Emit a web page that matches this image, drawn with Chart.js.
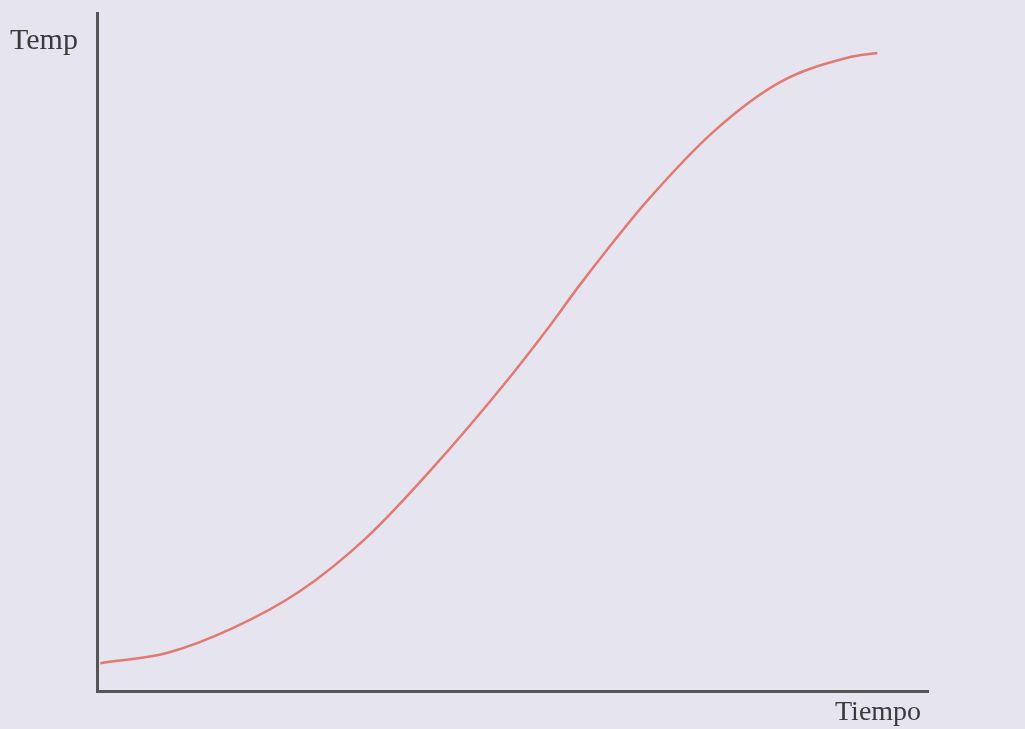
<!DOCTYPE html>
<html>
<head>
<meta charset="utf-8">
<script src="https://cdn.jsdelivr.net/npm/chart.js@4.4.1/dist/chart.umd.min.js"></script>
<style>
  html, body { margin: 0; padding: 0; background: #e6e4ee; }
  #wrap { position: relative; width: 1025px; height: 729px; }
</style>
</head>
<body>
<div id="wrap"><canvas id="chart" width="1025" height="729"></canvas></div>
<script>
// values (arbitrary units, axes have no ticks)
const tiempo = [0.04, 0.84, 1.64, 2.44, 3.25, 4.04, 4.85, 5.42, 5.81, 6.21, 6.62, 7.41, 8.22, 9.03, 9.39];
const temp   = [4.1, 5.6, 9.3, 14.7, 22.7, 32.9, 44.5, 53.4, 59.9, 66.2, 72.3, 82.4, 89.8, 93.4, 94.1];
const xLabel = 'Tiempo';
const yLabel = 'Temp';

const labelsPlugin = {
    id: 'axisLabels',
    afterDraw(chart) {
        const ctx = chart.ctx;
        const area = chart.chartArea;
        ctx.save();
        ctx.fillStyle = '#3a3a3a';
        ctx.textBaseline = 'alphabetic';
        ctx.textAlign = 'left';
        ctx.font = '30px "Liberation Serif", "Times New Roman", serif';
        ctx.fillText(yLabel, 10, area.top + 36);
        ctx.font = '28px "Liberation Serif", "Times New Roman", serif';
        ctx.fillText(xLabel, 835, area.bottom + 29);
        ctx.restore();
    }
};

new Chart(document.getElementById('chart'), {
    type: 'line',
    data: {
        datasets: [{
            data: tiempo.map((t, i) => ({ x: t, y: temp[i] })),
            borderColor: '#e07a72',
            borderWidth: 2.5,
            pointRadius: 0,
            cubicInterpolationMode: 'monotone',
            fill: false
        }]
    },
    options: {
        responsive: false,
        animation: false,
        layout: { padding: { left: 97, top: 13, right: 97, bottom: 38 } },
        plugins: { legend: { display: false }, tooltip: { enabled: false } },
        scales: {
            x: {
                type: 'linear', min: 0, max: 10,
                ticks: { display: false },
                grid: { display: false, drawTicks: false, tickLength: 0 },
                border: { display: true, color: '#555', width: 3 }
            },
            y: {
                min: 0, max: 100,
                ticks: { display: false },
                grid: { display: false, drawTicks: false, tickLength: 0 },
                border: { display: true, color: '#555', width: 3 }
            }
        }
    },
    plugins: [labelsPlugin]
});
</script>
</body>
</html>
